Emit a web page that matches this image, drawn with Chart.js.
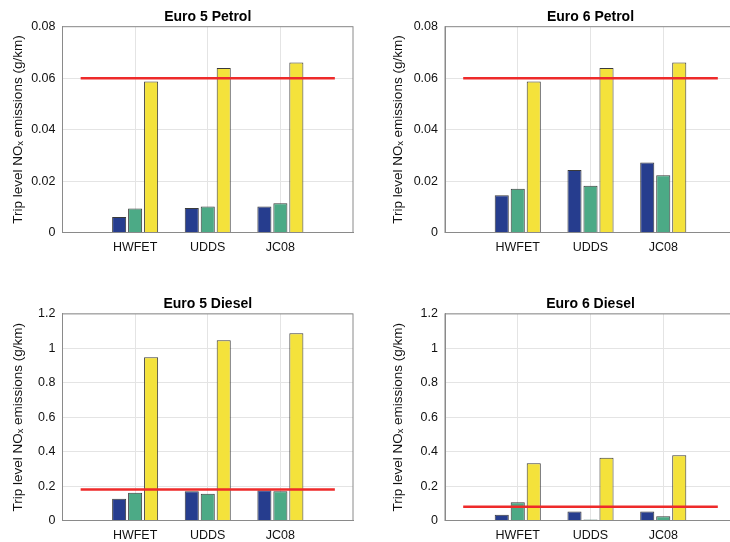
<!DOCTYPE html>
<html>
<head>
<meta charset="utf-8">
<script src="https://cdn.jsdelivr.net/npm/chart.js@4.4.0/dist/chart.umd.min.js"></script>
<style>
  html, body { margin: 0; padding: 0; background: #fff; width: 730px; height: 542px; overflow: hidden; position: relative; }
  canvas { position: absolute; display: block; }
</style>
</head>
<body>
<canvas id="e5p" width="365" height="271" style="left:0;top:0"></canvas>
<canvas id="e6p" width="380" height="271" style="left:365px;top:0"></canvas>
<canvas id="e5d" width="365" height="271" style="left:0;top:271px"></canvas>
<canvas id="e6d" width="380" height="271" style="left:365px;top:271px"></canvas>
<script>
// Drive cycles and their positions on the x axis (axis runs 0..4)
const cycles = ['HWFET', 'UDDS', 'JC08'];
const cyclePositions = [1, 2, 3];

// Trip level NOx emissions (g/km), three estimates per cycle
const euro5PetrolS1 = [0.0060, 0.0095, 0.0101];
const euro5PetrolS2 = [0.0093, 0.0101, 0.0114];
const euro5PetrolS3 = [0.0587, 0.0639, 0.0661];

const euro6PetrolS1 = [0.0145, 0.0243, 0.0272];
const euro6PetrolS2 = [0.0170, 0.0182, 0.0223];
const euro6PetrolS3 = [0.0587, 0.0639, 0.0661];

const euro5DieselS1 = [0.126, 0.170, 0.176];
const euro5DieselS2 = [0.161, 0.155, 0.170];
const euro5DieselS3 = [0.948, 1.047, 1.088];

const euro6DieselS1 = [0.033, 0.052, 0.052];
const euro6DieselS2 = [0.106, 0.006, 0.025];
const euro6DieselS3 = [0.333, 0.364, 0.379];

// Type-approval limits (g/km) and the x extent of the limit line
const euro5PetrolLimit = 0.06;
const euro6PetrolLimit = 0.06;
const euro5DieselLimit = 0.18;
const euro6DieselLimit = 0.08;
const limitSpan = [0.25, 3.75];

// Y axis ticks
const petrolTicks = [0, 0.02, 0.04, 0.06, 0.08];
const petrolTickLabels = ['0', '0.02', '0.04', '0.06', '0.08'];
const dieselTicks = [0, 0.2, 0.4, 0.6, 0.8, 1, 1.2];
const dieselTickLabels = ['0', '0.2', '0.4', '0.6', '0.8', '1', '1.2'];

const seriesColors = ['#263d8e', '#4caa86', '#f4e23b'];
const FONT = "'Liberation Sans', Arial, Helvetica, sans-serif";
const BOX = '#8a8a8a';

// Closes the axes box on the top and right sides
const boxFrame = {
  id: 'boxFrame',
  afterDraw(chart) {
    const { ctx, chartArea: a } = chart;
    ctx.save();
    ctx.strokeStyle = BOX;
    ctx.lineWidth = 1;
    ctx.strokeRect(a.left, a.top, a.right - a.left, a.bottom - a.top);
    ctx.restore();
  }
};

function toPoints(values) {
  return cyclePositions.map((x, i) => ({ x, y: values[i] }));
}

function makePanel(id, title, series, limit, ticks, tickLabels, g) {
  const datasets = [{
    type: 'line',
    data: limitSpan.map(x => ({ x, y: limit })),
    borderColor: '#ee2a2a',
    borderWidth: 2.5,
    pointRadius: 0,
    order: -1
  }];
  series.forEach((vals, i) => datasets.push({
    type: 'bar',
    data: toPoints(vals),
    backgroundColor: seriesColors[i],
    borderColor: '#3a3a3a',
    borderWidth: 1,
    categoryPercentage: 0.66,
    barPercentage: 0.88
  }));

  new Chart(document.getElementById(id), {
    type: 'bar',
    data: { datasets },
    plugins: [boxFrame],
    options: {
      responsive: false,
      animation: false,
      layout: { padding: { left: 0, right: g.padRight, top: 0, bottom: 0 } },
      plugins: {
        legend: { display: false },
        tooltip: { enabled: false },
        title: {
          display: true,
          text: title,
          fullSize: false,
          color: '#000',
          font: { family: FONT, size: 14, weight: 'bold' },
          padding: { top: g.titleTop, bottom: g.titleBottom }
        }
      },
      scales: {
        x: {
          type: 'linear',
          min: 0,
          max: 4,
          offset: false,
          grid: { color: '#e4e4e4', drawTicks: false, offset: false },
          border: { color: BOX, width: 1 },
          afterBuildTicks: s => { s.ticks = cyclePositions.map(v => ({ value: v })); },
          afterFit: s => { s.height = g.xHeight; },
          ticks: {
            padding: 8,
            color: '#111',
            font: { family: FONT, size: 12.5 },
            callback: v => cycles[cyclePositions.indexOf(v)]
          }
        },
        y: {
          min: ticks[0],
          max: ticks[ticks.length - 1],
          grid: { color: '#e4e4e4', drawTicks: false },
          border: { color: BOX, width: 1 },
          afterBuildTicks: s => { s.ticks = ticks.map(v => ({ value: v })); },
          afterFit: s => { s.width = g.yWidth; },
          ticks: {
            padding: 7,
            color: '#111',
            font: { family: FONT, size: 12.5 },
            callback: v => tickLabels[ticks.indexOf(v)]
          },
          title: {
            display: true,
            text: 'Trip level NOₓ emissions (g/km)',
            color: '#111',
            font: { family: FONT, size: 13.5 },
            padding: { top: g.yTitleTop, bottom: 0 }
          }
        }
      }
    }
  });
}

const topLeft = { padRight: 12, yWidth: 62.5, titleTop: 8.3, titleBottom: 1.6, xHeight: 38.5, yTitleTop: 10 };
const topRight = { padRight: 9, yWidth: 80, titleTop: 8.3, titleBottom: 1.6, xHeight: 38.5, yTitleTop: 25 };
const botLeft = { padRight: 12, yWidth: 62.5, titleTop: 24.8, titleBottom: 1.3, xHeight: 21.5, yTitleTop: 10 };
const botRight = { padRight: 9, yWidth: 80, titleTop: 24.8, titleBottom: 1.3, xHeight: 21.5, yTitleTop: 25 };

makePanel('e5p', 'Euro 5 Petrol', [euro5PetrolS1, euro5PetrolS2, euro5PetrolS3], euro5PetrolLimit, petrolTicks, petrolTickLabels, topLeft);
makePanel('e6p', 'Euro 6 Petrol', [euro6PetrolS1, euro6PetrolS2, euro6PetrolS3], euro6PetrolLimit, petrolTicks, petrolTickLabels, topRight);
makePanel('e5d', 'Euro 5 Diesel', [euro5DieselS1, euro5DieselS2, euro5DieselS3], euro5DieselLimit, dieselTicks, dieselTickLabels, botLeft);
makePanel('e6d', 'Euro 6 Diesel', [euro6DieselS1, euro6DieselS2, euro6DieselS3], euro6DieselLimit, dieselTicks, dieselTickLabels, botRight);
</script>
</body>
</html>
